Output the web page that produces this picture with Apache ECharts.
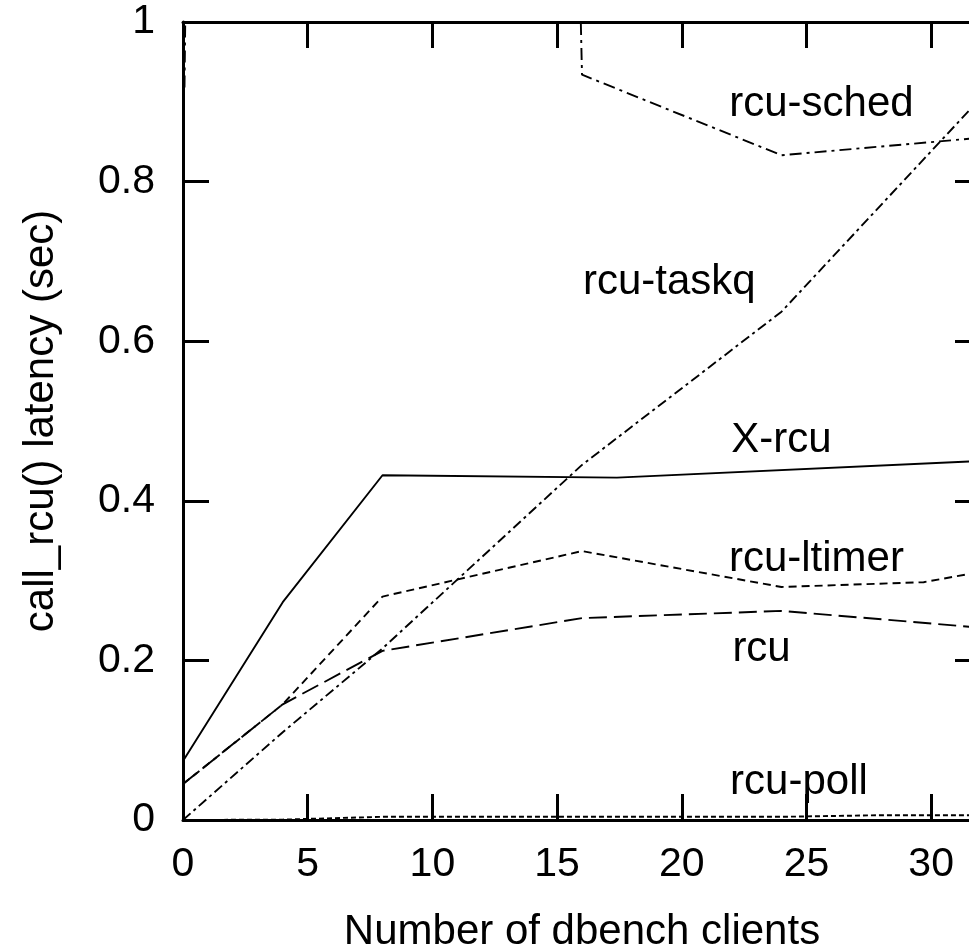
<!DOCTYPE html>
<html>
<head>
<meta charset="utf-8">
<script src="https://cdn.jsdelivr.net/npm/echarts@6/dist/echarts.min.js"></script>
<style>
  html, body { margin: 0; padding: 0; background: #fff; overflow: hidden; }
  #main { width: 969px; height: 948px; }
</style>
</head>
<body>
<div id="main"></div>
<script>
// values (x = dbench clients, y = latency in sec)
var xrcuX = [0, 4, 8, 17.4, 32];
var xrcuY = [0.074, 0.273, 0.432, 0.429, 0.450];

var schedX = [0.06, 4, 8, 16, 24, 32];
var schedY = [0.918, 12, 12, 0.934, 0.833, 0.855];

var taskqX = [0, 4, 8, 16, 24, 32];
var taskqY = [0, 0.11, 0.215, 0.445, 0.637, 0.905];

var ltimerX = [0, 4, 8, 16, 24, 29.7, 32];
var ltimerY = [0.045, 0.145, 0.28, 0.337, 0.292, 0.298, 0.311];

var rcuX = [0, 4, 8, 16, 24, 32];
var rcuY = [0.045, 0.145, 0.212, 0.253, 0.262, 0.241];

var pollX = [0, 4, 8, 16, 24, 28, 32];
var pollY = [0, 0.0005, 0.004, 0.004, 0.004, 0.006, 0.006];

var xTicks = [0, 5, 10, 15, 20, 25, 30];
var yTicks = [0, 0.2, 0.4, 0.6, 0.8, 1];

// where the curve names sit, in data units
var names = ['rcu-sched', 'rcu-taskq', 'X-rcu', 'rcu-ltimer', 'rcu', 'rcu-poll'];
var nameSpots = [[25.6, 0.897], [19.5, 0.674], [24.0, 0.476], [25.4, 0.327], [23.2, 0.214], [24.7, 0.047]];

var FONT = "'Liberation Sans', Arial, sans-serif";

function pairs(xs, ys) {
  return xs.map(function (x, i) { return [x, ys[i]]; });
}

function curve(name, xs, ys, dash) {
  return {
    name: name,
    type: 'line',
    data: pairs(xs, ys),
    showSymbol: false,
    clip: true,
    lineStyle: { color: '#000', width: 1.9, type: dash },
    z: 3
  };
}

var myChart = echarts.init(document.getElementById('main'));

var axisLine = { show: true, onZero: false, lineStyle: { color: '#000', width: 3 } };
var axisTick = { show: true, inside: true, length: 26, lineStyle: { color: '#000', width: 3 } };

var option = {
  animation: false,
  backgroundColor: '#fff',
  grid: { left: 183, top: 22, right: -12, bottom: 128, containLabel: false, outerBoundsMode: 'none' },
  xAxis: [
    {
      type: 'value', min: 0, max: 32, interval: 5, position: 'bottom',
      axisLine: axisLine, axisTick: axisTick, splitLine: { show: false },
      axisLabel: {
        color: '#000', fontSize: 41, fontFamily: FONT, margin: 24, showMaxLabel: false,
        formatter: function (v) { return xTicks.indexOf(v) >= 0 ? String(v) : ''; }
      },
      name: 'Number of dbench clients',
      nameLocation: 'middle', nameGap: 91,
      nameTextStyle: { color: '#000', fontSize: 42, fontFamily: FONT }
    },
    {
      type: 'value', min: 0, max: 32, interval: 5, position: 'top',
      axisLine: axisLine, axisTick: axisTick, splitLine: { show: false },
      axisLabel: { show: false }
    }
  ],
  yAxis: [
    {
      type: 'value', min: 0, max: 1, interval: 0.2, position: 'left',
      axisLine: axisLine, axisTick: axisTick, splitLine: { show: false },
      axisLabel: {
        color: '#000', fontSize: 41, fontFamily: FONT, margin: 28,
        formatter: function (v) {
          var hit = yTicks.filter(function (t) { return Math.abs(t - v) < 1e-9; });
          return hit.length ? String(hit[0]) : '';
        }
      },
      name: 'call_rcu() latency (sec)',
      nameLocation: 'middle', nameGap: 121,
      nameTextStyle: { color: '#000', fontSize: 42, fontFamily: FONT }
    },
    {
      type: 'value', min: 0, max: 1, interval: 0.2, position: 'right',
      axisLine: axisLine, axisTick: axisTick, splitLine: { show: false },
      axisLabel: { show: false }
    }
  ],
  series: [
    curve('X-rcu', xrcuX, xrcuY, 'solid'),
    curve('rcu-sched', schedX, schedY, [12, 5, 3, 5]),
    curve('rcu-taskq', taskqX, taskqY, [10, 4, 3, 4]),
    curve('rcu-ltimer', ltimerX, ltimerY, [8, 5]),
    curve('rcu', rcuX, rcuY, [18, 7]),
    curve('rcu-poll', pollX, pollY, [5, 3]),
    {
      name: 'labels',
      type: 'scatter',
      symbol: 'circle',
      symbolSize: 1,
      itemStyle: { color: '#fff', opacity: 1 },
      data: names.map(function (n, i) { return { name: n, value: nameSpots[i] }; }),
      label: {
        show: true, position: 'inside', formatter: '{b}',
        color: '#000', opacity: 1, textBorderWidth: 0, fontSize: 42, fontFamily: FONT
      },
      z: 4
    }
  ]
};

myChart.setOption(option);
</script>
</body>
</html>
